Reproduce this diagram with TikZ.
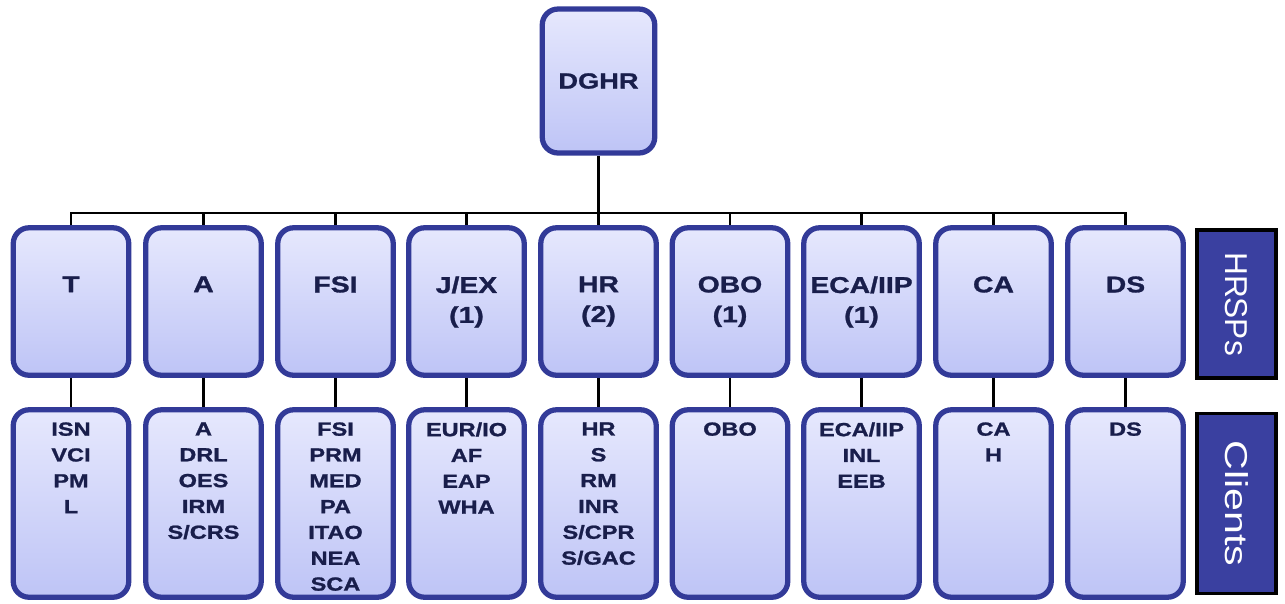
\documentclass[tikz,border=0pt]{standalone}
\usepackage{fontspec}
\setmainfont{Liberation Sans}[FakeStretch=1.24, BoldFeatures={FakeBold=1.2}]
\newfontfamily\tabfont{Liberation Sans}
\newfontfamily\tabwide{Liberation Sans}[FakeStretch=1.3]
\definecolor{boxedge}{RGB}{50,58,152}
\definecolor{boxtop}{RGB}{230,232,253}
\definecolor{boxbot}{RGB}{190,196,246}
\definecolor{ink}{RGB}{25,30,75}
\definecolor{tabfill}{RGB}{58,64,160}
\begin{document}
\begin{tikzpicture}[x=.02cm, y=-.02cm, line width=1.6pt,
	unit/.style={draw=boxedge, line width=3pt, rounded corners=9pt, top color=boxtop, bottom color=boxbot, minimum width=2.31cm},
	hrsp/.style={unit, minimum height=2.95cm},
	client/.style={unit, minimum height=3.75cm},
	tag/.style={text=ink, font=\bfseries\fontsize{13}{17}\selectfont, align=center, inner sep=0pt, anchor=north},
	list/.style={text=ink, font=\bfseries\fontsize{10.8}{14.7}\selectfont, align=center, inner sep=0pt, anchor=north},
	tab/.style={draw=black, line width=2.2pt, fill=tabfill, text=white, minimum height=1.58cm, rotate=-90}]
	\useasboundingbox (0,0) rectangle (1285,603);
	\node[unit, minimum width=2.25cm, minimum height=2.88cm, text=ink, font=\bfseries\fontsize{12.5}{15}\selectfont] (dghr) at (598.5,81) {DGHR};
	\node[hrsp] (t) at (71,301.5) {};
	\node[hrsp] (a) at (203.5,301.5) {};
	\node[hrsp] (fsi) at (335.5,301.5) {};
	\node[hrsp] (jex) at (466.5,301.5) {};
	\node[hrsp] (hr) at (598.5,301.5) {};
	\node[hrsp] (obo) at (730,301.5) {};
	\node[hrsp] (eca) at (861.5,301.5) {};
	\node[hrsp] (ca) at (993.5,301.5) {};
	\node[hrsp] (ds) at (1125.5,301.5) {};
	\node[tag] (tl) at (71,275) {T};
	\node[tag] (al) at (203.5,275) {A};
	\node[tag] (fsil) at (335.5,275) {FSI};
	\node[tag] (jexl) at (466.5,275) {J/EX\\(1)};
	\node[tag] (hrl) at (598.5,275) {HR\\(2)};
	\node[tag] (obol) at (730,275) {OBO\\(1)};
	\node[tag] (ecal) at (861.5,275) {ECA/IIP\\(1)};
	\node[tag] (cal) at (993.5,275) {CA};
	\node[tag] (dsl) at (1125.5,275) {DS};
	\node[client] (tc) at (71,503.5) {};
	\node[client] (ac) at (203.5,503.5) {};
	\node[client] (fsic) at (335.5,503.5) {};
	\node[client] (jexc) at (466.5,503.5) {};
	\node[client] (hrc) at (598.5,503.5) {};
	\node[client] (oboc) at (730,503.5) {};
	\node[client] (ecac) at (861.5,503.5) {};
	\node[client] (cac) at (993.5,503.5) {};
	\node[client] (dsc) at (1125.5,503.5) {};
	\node[list] (tcl) at (71,421) {ISN\\VCI\\PM\\L};
	\node[list] (acl) at (203.5,421) {A\\DRL\\OES\\IRM\\S/CRS};
	\node[list] (fsicl) at (335.5,421) {FSI\\PRM\\MED\\PA\\ITAO\\NEA\\SCA};
	\node[list] (jexcl) at (466.5,421) {EUR/IO\\AF\\EAP\\WHA};
	\node[list] (hrcl) at (598.5,421) {HR\\S\\RM\\INR\\S/CPR\\S/GAC};
	\node[list] (obocl) at (730,421) {OBO};
	\node[list] (ecacl) at (861.5,421) {ECA/IIP\\INL\\EEB};
	\node[list] (cacl) at (993.5,421) {CA\\H};
	\node[list] (dscl) at (1125.5,421) {DS};
	\node[tab, minimum width=2.96cm, font=\tabfont\fontsize{18}{20}\selectfont] (hrsps) at (1236.5,304) {HRSPs};
	\node[tab, minimum width=3.6cm, font=\tabwide\fontsize{18}{20}\selectfont] (clients) at (1236.5,503.5) {Clients};
	\coordinate (bar) at (598.5,213);
	\draw (dghr) -- (bar);
	\draw (t.north) |- (bar) -| (ds.north);
	\draw (a.north) -- (a.north |- bar);  \draw (fsi.north) -- (fsi.north |- bar);
	\draw (jex.north) -- (jex.north |- bar);  \draw (hr.north) -- (hr.north |- bar);
	\draw (obo.north) -- (obo.north |- bar);  \draw (eca.north) -- (eca.north |- bar);
	\draw (ca.north) -- (ca.north |- bar);
	\draw (t) -- (tc);  \draw (a) -- (ac);  \draw (fsi) -- (fsic);
	\draw (jex) -- (jexc);  \draw (hr) -- (hrc);  \draw (obo) -- (oboc);
	\draw (eca) -- (ecac);  \draw (ca) -- (cac);  \draw (ds) -- (dsc);
\end{tikzpicture}
\end{document}
